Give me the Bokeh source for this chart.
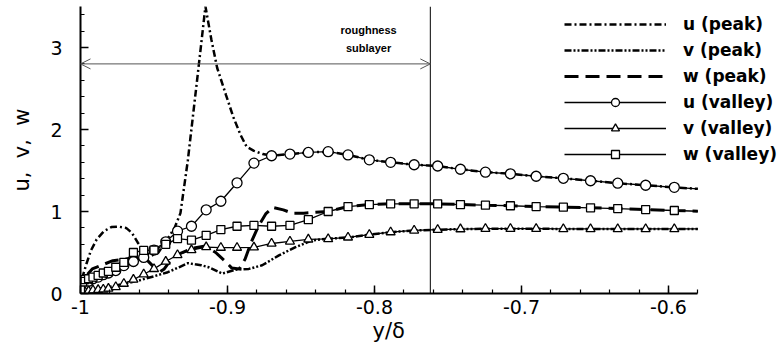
from bokeh.plotting import figure
from bokeh.models import (Range1d, FixedTicker, Span, Arrow, OpenHead, Label,
                          Legend, LegendItem, Title)
from bokeh.embed import file_html
from bokeh.resources import INLINE

# Wall-normal stations (y/delta) shared by the valley profiles
VALLEY_X = [-1.0, -0.9985, -0.997, -0.9945, -0.9915, -0.988, -0.9845, -0.981,
            -0.976, -0.9705, -0.964, -0.957, -0.950, -0.942, -0.934, -0.9245,
            -0.9145, -0.9045, -0.8935, -0.882, -0.870, -0.8575, -0.845, -0.8315,
            -0.818, -0.8035, -0.789, -0.773, -0.757, -0.7415, -0.7245, -0.7075,
            -0.690, -0.6715, -0.653, -0.6345, -0.6155, -0.596, -0.58]

U_VALLEY = [0.0, 0.06, 0.11, 0.15, 0.18, 0.20, 0.23, 0.25,
            0.28, 0.34, 0.39, 0.44, 0.53, 0.63, 0.76, 0.82,
            1.02, 1.125, 1.35, 1.59, 1.68, 1.70, 1.72, 1.73,
            1.69, 1.63, 1.60, 1.57, 1.555, 1.515, 1.48, 1.46,
            1.43, 1.405, 1.375, 1.345, 1.32, 1.295, 1.276]

V_VALLEY = [0.0, 0.01, 0.02, 0.03, 0.04, 0.045, 0.05, 0.06,
            0.08, 0.12, 0.17, 0.235, 0.30, 0.39, 0.47, 0.53,
            0.566, 0.559, 0.559, 0.563, 0.61, 0.635, 0.66, 0.665,
            0.684, 0.717, 0.748, 0.769, 0.778, 0.785, 0.79, 0.79,
            0.79, 0.787, 0.787, 0.787, 0.787, 0.787, 0.787]

W_VALLEY = [0.05, 0.14, 0.17, 0.18, 0.20, 0.22, 0.25, 0.27,
            0.32, 0.38, 0.50, 0.525, 0.53, 0.60, 0.67, 0.65,
            0.71, 0.78, 0.82, 0.83, 0.82, 0.83, 0.90, 1.00,
            1.06, 1.085, 1.094, 1.094, 1.094, 1.085, 1.077, 1.07,
            1.06, 1.053, 1.045, 1.036, 1.024, 1.012, 1.003]

# Peak profiles near the wall; above the join station they follow the valley data
U_PEAK_X = [-1.0, -0.999, -0.996, -0.993, -0.989, -0.984, -0.979, -0.974,
            -0.969, -0.965, -0.961, -0.957, -0.952, -0.947, -0.941, -0.936,
            -0.932, -0.927, -0.9205, -0.915, -0.911, -0.907, -0.901, -0.896,
            -0.891, -0.887, -0.882, -0.876]
U_PEAK = [0.0, 0.18, 0.36, 0.52, 0.66, 0.76, 0.81, 0.815,
          0.80, 0.74, 0.62, 0.52, 0.46, 0.50, 0.66, 0.80,
          0.98, 1.62, 2.63, 3.50, 3.10, 2.75, 2.42, 2.15,
          1.93, 1.79, 1.74, 1.70]
U_PEAK_JOIN = -0.870

V_PEAK_X = [-1.0, -0.995, -0.99, -0.98, -0.97, -0.96, -0.95, -0.9406,
            -0.933, -0.927, -0.922, -0.918, -0.9127, -0.9036, -0.8946,
            -0.8855, -0.8764, -0.865, -0.8537, -0.8424, -0.8315]
V_PEAK = [0.0, 0.03, 0.05, 0.08, 0.12, 0.16, 0.21, 0.26,
          0.32, 0.37, 0.356, 0.345, 0.32, 0.243, 0.29,
          0.30, 0.344, 0.465, 0.566, 0.648, 0.668]
V_PEAK_JOIN = -0.818

W_PEAK_X = [-1.0, -0.999, -0.996, -0.992, -0.985, -0.978, -0.970, -0.962,
            -0.956, -0.951, -0.947, -0.943, -0.939, -0.932, -0.924, -0.915,
            -0.908, -0.902, -0.897, -0.892, -0.888, -0.884, -0.879, -0.874,
            -0.869, -0.862, -0.856, -0.848, -0.840]
W_PEAK = [0.0, 0.12, 0.22, 0.30, 0.35, 0.40, 0.42, 0.43,
          0.43, 0.34, 0.25, 0.30, 0.40, 0.49, 0.55, 0.58,
          0.50, 0.40, 0.31, 0.30, 0.42, 0.62, 0.82, 0.97,
          1.05, 1.02, 0.98, 0.98, 0.99]
W_PEAK_JOIN = -0.8315

SUBLAYER_EDGE = -0.762
ARROW_Y = 2.8

X_BOUNDS = (-1.0, -0.58)
X_TICKS = [-1.0, -0.9, -0.8, -0.7, -0.6]
X_TICK_LABELS = ["-1", "-0.9", "-0.8", "-0.7", "-0.6"]
X_MINOR = [round(-1.0 + 0.02 * i, 2) for i in range(22)]
Y_TICKS = [0, 1, 2, 3]
Y_MINOR = [round(0.2 * i, 1) for i in range(18)]


def joined(px, py, join_x, vy):
    k = VALLEY_X.index(join_x)
    return px + VALLEY_X[k:], py + vy[k:]


# the frame runs to the right edge so the legend keys have room;
# the x axis itself is bounded to the data extent
p = figure(width=782, height=350,
           x_range=Range1d(-1.0, -0.5224), y_range=Range1d(0, 3.5),
           output_backend="svg", toolbar_location=None,
           min_border_left=80, min_border_right=0,
           min_border_top=6, min_border_bottom=57)
p.outline_line_color = None
p.xgrid.visible = False
p.ygrid.visible = False
p.background_fill_color = "white"
p.border_fill_color = "white"

# axes
p.xaxis.ticker = FixedTicker(ticks=X_TICKS, minor_ticks=X_MINOR)
p.yaxis.ticker = FixedTicker(ticks=Y_TICKS, minor_ticks=Y_MINOR)
p.xaxis.bounds = X_BOUNDS
p.xaxis.major_label_overrides = {t: s for t, s in zip(X_TICKS, X_TICK_LABELS)}
for ax in (p.xaxis[0], p.yaxis[0]):
    ax.axis_line_width = 2
    ax.axis_line_color = "black"
    ax.major_tick_in = 8
    ax.major_tick_out = 0
    ax.minor_tick_in = 4
    ax.minor_tick_out = 0
    ax.major_tick_line_width = 1.5
    ax.minor_tick_line_width = 1.2
    ax.major_tick_line_color = "black"
    ax.minor_tick_line_color = "black"
    ax.major_label_text_font = "DejaVu Sans"
    ax.major_label_text_font_size = "19px"
    ax.major_label_text_color = "black"
    ax.axis_label_text_font = "DejaVu Sans"
    ax.axis_label_text_font_size = "21px"
    ax.axis_label_text_font_style = "normal"
    ax.axis_label_text_color = "black"
p.yaxis.axis_label = "u,\u00a0 v,\u00a0 w"
p.xaxis.major_label_standoff = 6
p.yaxis.major_label_standoff = 18
p.yaxis.axis_label_standoff = 13

# x axis title, centred under the bounded axis rather than the whole frame
p.add_layout(Title(text="y/δ", align="left", offset=292, standoff=0,
                   text_font="DejaVu Sans", text_font_size="21px",
                   text_font_style="normal", text_color="black"), "below")

# peak profiles
ux, uy = joined(U_PEAK_X, U_PEAK, U_PEAK_JOIN, U_VALLEY)
vx, vy = joined(V_PEAK_X, V_PEAK, V_PEAK_JOIN, V_VALLEY)
wx, wy = joined(W_PEAK_X, W_PEAK, W_PEAK_JOIN, W_VALLEY)
r_up = p.line(ux, uy, line_color="black", line_width=2.5, line_dash="7 3 2 3")
r_vp = p.line(vx, vy, line_color="black", line_width=2.5, line_dash="7 2 2 2 2 2")
r_wp = p.line(wx, wy, line_color="black", line_width=3, line_dash="14 7")

# valley profiles (the last station closes the line at the axis end, no symbol)
mx = VALLEY_X[:-1]
r_uv = p.line(VALLEY_X, U_VALLEY, line_color="black", line_width=1.3)
r_vv = p.line(VALLEY_X, V_VALLEY, line_color="black", line_width=1.3)
r_wv = p.line(VALLEY_X, W_VALLEY, line_color="black", line_width=1.3)
m_uv = p.scatter(mx, U_VALLEY[:-1], marker="circle", size=10, fill_color="white",
                 line_color="black", line_width=1.3)
m_vv = p.scatter(mx, V_VALLEY[:-1], marker="triangle", size=9, fill_color="white",
                 line_color="black", line_width=1.3)
m_wv = p.scatter(mx, W_VALLEY[:-1], marker="square", size=8, fill_color="white",
                 line_color="black", line_width=1.3)

# roughness sublayer edge and extent
p.add_layout(Span(location=SUBLAYER_EDGE, dimension="height",
                  line_color="black", line_width=1))
p.add_layout(Arrow(start=OpenHead(size=10, line_color="#555555", line_width=1),
                   end=OpenHead(size=10, line_color="#555555", line_width=1),
                   x_start=-1.0, y_start=ARROW_Y, x_end=SUBLAYER_EDGE, y_end=ARROW_Y,
                   line_color="#555555", line_width=1))
for txt, yy in (("roughness", 3.213), ("sublayer", 3.0)):
    p.add_layout(Label(x=-0.804, y=yy, text=txt, text_align="center",
                       text_baseline="middle", text_font="Liberation Sans",
                       text_font_style="bold", text_font_size="11px",
                       text_color="black"))

legend = Legend(items=[
    LegendItem(label="u (peak)", renderers=[r_up]),
    LegendItem(label="v (peak)", renderers=[r_vp]),
    LegendItem(label="w (peak)", renderers=[r_wp]),
    LegendItem(label="u (valley)", renderers=[r_uv, m_uv]),
    LegendItem(label="v (valley)", renderers=[r_vv, m_vv]),
    LegendItem(label="w (valley)", renderers=[r_wv, m_wv]),
], location=(484, 129), glyph_width=102, glyph_height=20, label_height=20,
    label_standoff=17, spacing=6, padding=0, margin=0,
    border_line_color=None, background_fill_alpha=0,
    label_text_font="DejaVu Sans", label_text_font_style="bold",
    label_text_font_size="17px", label_text_color="black")
p.add_layout(legend)

open("out.html", "w").write(file_html(p, INLINE))
